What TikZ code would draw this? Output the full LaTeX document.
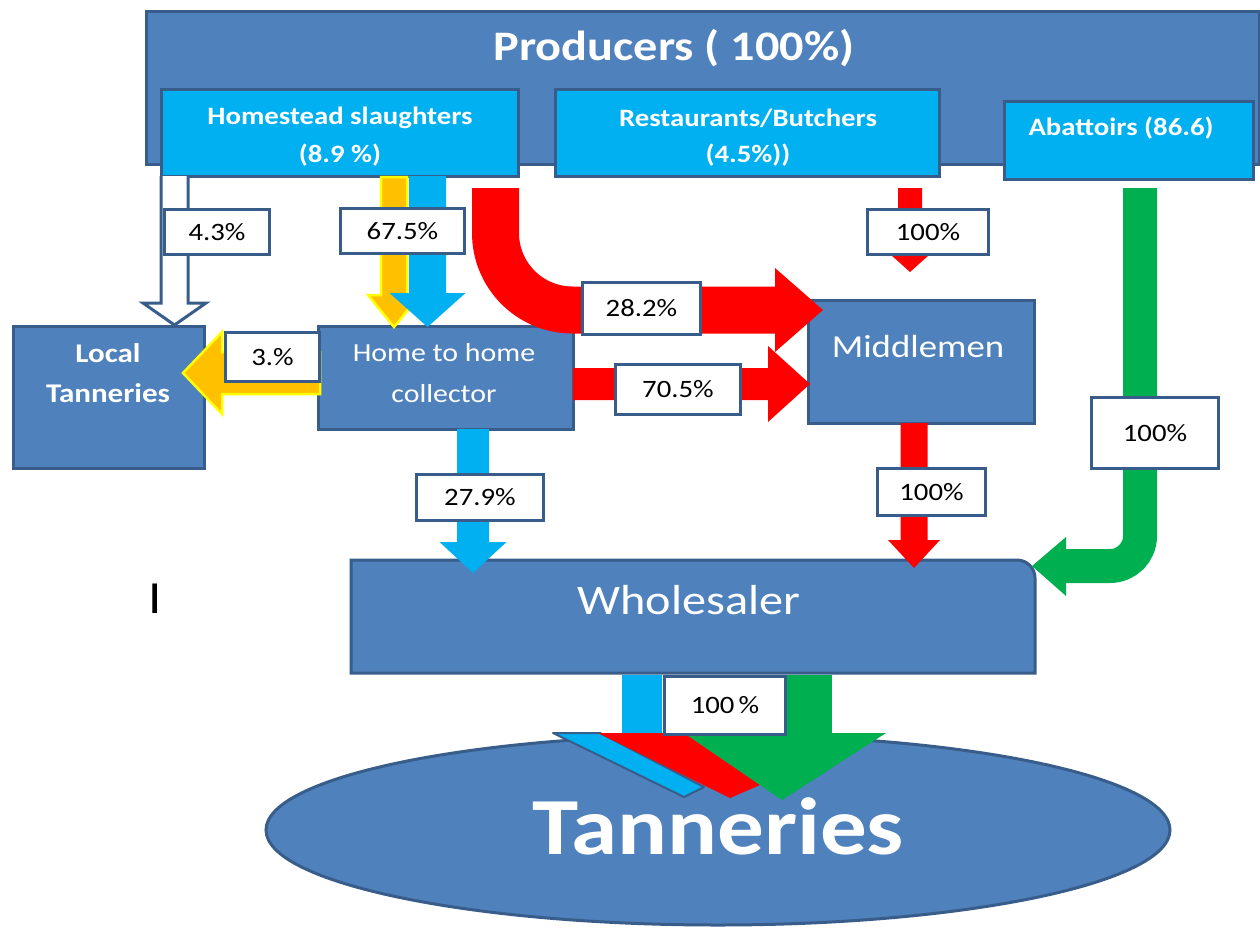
\documentclass[tikz,border=0pt]{standalone}
\usepackage{fontspec}
\setmainfont{Carlito}[FakeStretch=1.15]
\usetikzlibrary{shapes.geometric}
\definecolor{boxblue}{HTML}{4F81BD}
\definecolor{edgeblue}{HTML}{385D8A}
\definecolor{skyblue}{HTML}{00B0F0}
\definecolor{flowred}{HTML}{FF0000}
\definecolor{flowgreen}{HTML}{00B050}
\definecolor{floworange}{HTML}{FFC000}
\definecolor{flowyellow}{HTML}{FFFF00}
% vertical block arrow: style, x centre, y top, shaft half, head half, y head base, y tip
\newcommand\blockdown[7]{\path[#1] ({#2-#4},#3) -- ({#2+#4},#3) -- ({#2+#4},#6) -- ({#2+#5},#6) -- (#2,#7) -- ({#2-#5},#6) -- ({#2-#4},#6) -- cycle;}
% horizontal block arrow: style, y centre, x start, shaft half, head half, x head base, x tip
\newcommand\blockhoriz[7]{\path[#1] (#3,{#2-#4}) -- (#6,{#2-#4}) -- (#6,{#2-#5}) -- (#7,#2) -- (#6,{#2+#5}) -- (#6,{#2+#4}) -- (#3,{#2+#4}) -- cycle;}
\begin{document}
\begin{tikzpicture}[x=1pt,y=-1pt,
  box/.style={draw=edgeblue, line width=3pt, fill=boxblue, inner sep=0pt, anchor=north west},
  subbox/.style={box, fill=skyblue},
  lab/.style={draw=edgeblue, line width=3pt, fill=white, inner sep=0pt, anchor=north west, text=black, font=\fontsize{25}{28}\selectfont},
  wt/.style={text=white, inner sep=0pt},
  boldsmall/.style={wt, font=\fontsize{25}{28}\selectfont\bfseries},
  yellowflow/.style={fill=floworange, draw=flowyellow, line width=2.5pt},
]
\useasboundingbox (0,0) rectangle (1260,934);
\fill[white] (0,0) rectangle (1260,934);

% ---------- boxes ----------
\node[box, minimum width=1113, minimum height=153] (prod) at (145,10) {};
\node[wt, font=\fontsize{42}{46}\selectfont\bfseries] (prodtxt) at (674,48) {Producers ( 100\%)};

\node[subbox, minimum width=357, minimum height=87] (hs) at (160,88) {};
\node[boldsmall] (hs1) at (340,118) {Homestead slaughters};
\node[boldsmall] (hs2) at (340,155) {(8.9 \%)};

\node[subbox, minimum width=384, minimum height=87] (rb) at (554,88) {};
\node[boldsmall] (rb1) at (748,118) {Restaurants/Butchers};
\node[boldsmall] (rb2) at (748,155) {(4.5\%))};

\node[subbox, minimum width=249, minimum height=78] (ab) at (1003,100) {};
\node[boldsmall] (ab1) at (1121,128) {Abattoirs (86.6)};

\node[box, minimum width=191, minimum height=142] (lt) at (12,325) {};
\node[wt, font=\fontsize{27}{30}\selectfont\bfseries] (lt1) at (108,353) {Local};
\node[wt, font=\fontsize{27}{30}\selectfont\bfseries] (lt2) at (108,393) {Tanneries};

\node[box, minimum width=255, minimum height=103] (hh) at (317,325) {};
\node[wt, font=\fontsize{26}{30}\selectfont] (hh1) at (444,353) {Home to home};
\node[wt, font=\fontsize{26}{30}\selectfont] (hh2) at (444,394) {collector};

\node[box, minimum width=226, minimum height=123] (mm) at (807,299) {};
\node[wt, font=\fontsize{32}{36}\selectfont] (mmtxt) at (918,346) {Middlemen};

\draw[draw=edgeblue, line width=3pt, fill=boxblue] (351,673) -- (351,560) [rounded corners=18pt] -- (1035,560) [sharp corners] -- (1035,673) -- cycle;
\node[wt, font=\fontsize{42}{46}\selectfont] (wh) at (689,600) {Wholesaler};

\node[ellipse, draw=edgeblue, line width=3pt, fill=boxblue, inner sep=0pt, minimum width=904, minimum height=190] (tan) at (718,830) {};
\node[wt, font=\fontsize{81}{90}\selectfont\bfseries] (tantxt) at (718,826) {Tanneries};

\node[inner sep=0pt, font=\fontsize{46}{50}\selectfont] (bar) at (155,599) {I};

% ---------- flows from homestead ----------
\blockdown{fill=white}{174.5}{176}{13.5}{31.5}{303}{325}
\draw[edgeblue, line width=3pt, line join=miter] (161,176) -- (161,303) -- (143,303) -- (174.5,325) -- (206,303) -- (188,303) -- (188,176);

\blockdown{yellowflow}{394}{177}{13}{26}{295}{327}
\blockdown{fill=skyblue}{427.5}{176}{18.5}{38}{293}{327}

\draw[flowred, line width=47pt, rounded corners=77pt] (495.5,188) -- (495.5,310) -- (776,310);
\fill[flowred] (775,268) -- (823,310) -- (775,352) -- cycle;

% ---------- restaurants ----------
\blockdown{fill=flowred}{910}{188}{12}{19}{255}{272}

% ---------- abattoirs ----------
\draw[flowgreen, line width=34pt, rounded corners=30pt] (1140,188) -- (1140,566) -- (1066,566);
\fill[flowgreen] (1066,537) -- (1032,566) -- (1066,596) -- cycle;

% ---------- home to home collector ----------
\blockhoriz{yellowflow}{373}{320}{21}{41}{222}{183}
\blockhoriz{fill=flowred}{384}{573}{16}{38}{768}{810}
\blockdown{fill=skyblue}{473}{429}{16}{33.5}{542}{573}

% ---------- middlemen ----------
\blockdown{fill=flowred}{914}{423}{13.5}{26}{540}{568}

% ---------- wholesaler to tanneries ----------
\fill[skyblue] (622,675) rectangle (662,733);
\fill[flowgreen] (787,675) rectangle (832,733);
\draw[edgeblue, line width=2pt, fill=skyblue, line join=round] (553,733) -- (600,733) -- (704,787) -- (684,797) -- cycle;
\fill[flowred] (598,733) -- (684,733) -- (760,785) -- (730,798) -- cycle;
\fill[flowgreen] (684,733) -- (886,733) -- (782,800) -- cycle;

% ---------- labels ----------
\node[lab, minimum width=105, minimum height=45] (l43) at (163,208) {4.3\%};
\node[lab, minimum width=124, minimum height=45] (l675) at (339,207) {67.5\%};
\node[lab, minimum width=118, minimum height=52] (l282) at (581,281) {28.2\%};
\node[lab, minimum width=121, minimum height=45] (l100a) at (866,208) {100\%};
\node[lab, minimum width=94, minimum height=49] (l3) at (224,331) {3.\%};
\node[lab, minimum width=125, minimum height=50] (l705) at (614,363) {70.5\%};
\node[lab, minimum width=127, minimum height=46] (l279) at (415,473) {27.9\%};
\node[lab, minimum width=108, minimum height=47] (l100b) at (876,467) {100\%};
\node[lab, minimum width=127, minimum height=71] (l100c) at (1090,396) {100\%};
\node[lab, minimum width=121, minimum height=58] (l100d) at (663,675) {100\,\%};
\end{tikzpicture}
\end{document}
